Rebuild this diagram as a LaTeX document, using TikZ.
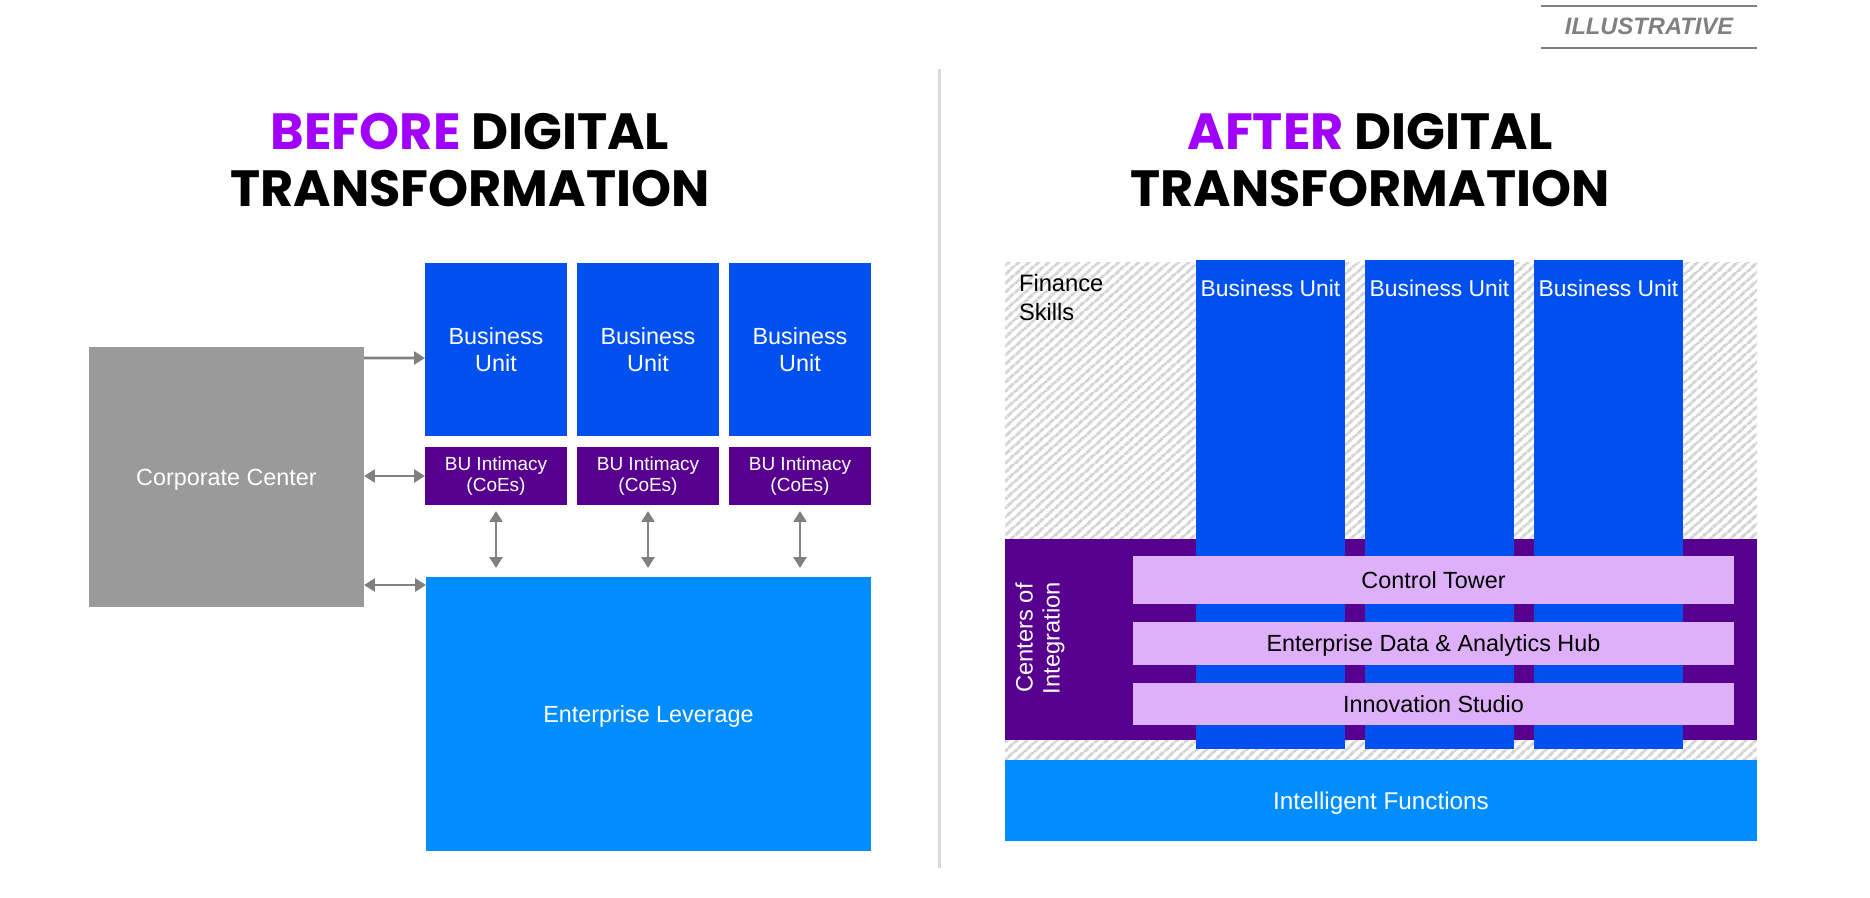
\documentclass[tikz,border=0pt]{standalone}
\usepackage{fontspec}
\setmainfont{Liberation Sans}
\newfontfamily\headfont{Poppins}
\usetikzlibrary{arrows.meta,patterns.meta,calc}

\definecolor{headpurple}{HTML}{A100FF}
\definecolor{bublue}{HTML}{0050EF}
\definecolor{levblue}{HTML}{008DFF}
\definecolor{darkpurple}{HTML}{570090}
\definecolor{lightpurple}{HTML}{DFB0FA}
\definecolor{ccgray}{HTML}{9A9A9A}
\definecolor{arrgray}{HTML}{808080}
\definecolor{hatchgray}{HTML}{D4D4D4}
\definecolor{rulegray}{HTML}{D9D9D9}

\begin{document}
\begin{tikzpicture}[x=0.02cm,y=-0.02cm,
  box/.style={rectangle, inner sep=0pt, outer sep=0pt, align=center, text=white,
    font=\fontsize{13.3}{15}\selectfont},
  head/.style={anchor=base, inner sep=0pt, font=\headfont\bfseries\fontsize{29}{29}\selectfont},
  arr/.style={draw=arrgray, line width=1.5pt, -{Triangle[length=0.22cm,width=0.26cm]}},
  dblarr/.style={draw=arrgray, line width=1.5pt, {Triangle[length=0.22cm,width=0.26cm]}-{Triangle[length=0.22cm,width=0.26cm]}}]
\useasboundingbox (0,0) rectangle (1870,898);

% tag
\node[inner sep=0pt, text=arrgray, font=\bfseries\itshape\fontsize{13.5}{14}\selectfont] (tag) at (1649,26) {ILLUSTRATIVE};
\draw[arrgray, line width=0.8pt] (1541,6) -- (1757,6);
\draw[arrgray, line width=0.8pt] (1541,48) -- (1757,48);

% headings
\node[head] (h1a) at (470,150) {\textcolor{headpurple}{BEFORE} DIGITAL};
\node[head] (h1b) at (470,207) {TRANSFORMATION};
\node[head] (h2a) at (1370,150) {\textcolor{headpurple}{AFTER} DIGITAL};
\node[head] (h2b) at (1370,207) {TRANSFORMATION};

\draw[rulegray, line width=1.7pt] (939,69) -- (939,868);

% before
\node[box, fill=ccgray, minimum width=5.5cm, minimum height=5.2cm, text depth=0pt] (cc) at (226.5,477) {Corporate Center};
\foreach \i/\x in {1/496,2/648,3/800} {
  \node[box, fill=bublue, minimum width=2.84cm, minimum height=3.46cm] (bu\i) at (\x,349.5) {Business\\Unit};
  \node[box, fill=darkpurple, minimum width=2.84cm, minimum height=1.16cm, font=\fontsize{10.8}{12.2}\selectfont] (bi\i) at (\x,476) {BU Intimacy\\(CoEs)};
}
\node[box, fill=levblue, minimum width=8.9cm, minimum height=5.48cm, text depth=0pt] (el) at (648.5,714) {Enterprise Leverage};

\draw[arr] ([yshift=-0.22cm]cc.north east) -- ([yshift=-0.17cm]bu1.west);
\draw[dblarr] (cc.east |- bi1.west) -- (bi1.west);
\draw[dblarr] ($(cc.east |- el.north west)+(0cm,-0.16cm)$) -- ($(el.north west)+(0cm,-0.16cm)$);
\foreach \i in {1,2,3}
  \draw[dblarr, shorten <=0.12cm, shorten >=0.18cm] (bi\i.south) -- (bi\i.south |- el.north);

% after
\fill[white, pattern={Lines[angle=42,distance=0.14cm,line width=0.07cm]}, pattern color=hatchgray] (1005,263) rectangle (1757,760);
\node[box, fill=darkpurple, minimum width=15.04cm, minimum height=4.02cm] (coi) at (1381,639.5) {};
\foreach \i/\x in {1/1270.5,2/1439.5,3/1608.5} {
  \node[box, fill=bublue, minimum width=2.98cm, minimum height=9.78cm] (col\i) at (\x,504.5) {};
  \node[box, inner sep=0pt, font=\fontsize{13}{15}\selectfont] (bul\i) at ([yshift=-0.56cm]col\i.north) {Business Unit};
}
\node[box, fill=lightpurple, text=black, minimum width=12.02cm, minimum height=0.96cm, text depth=0pt] (ct) at (1433.5,580) {Control Tower};
\node[box, fill=lightpurple, text=black, minimum width=12.02cm, minimum height=0.86cm, text depth=0pt] (eda) at (1433.5,643.5) {Enterprise Data \& Analytics Hub};
\node[box, fill=lightpurple, text=black, minimum width=12.02cm, minimum height=0.84cm, text depth=0pt] (is) at (1433.5,704) {Innovation Studio};
\node[box, rotate=90, font=\fontsize{13.5}{15.5}\selectfont] (coil) at (1040,638) {Centers of\\Integration};
\node[box, fill=levblue, minimum width=15.04cm, minimum height=1.62cm, text depth=0pt, font=\fontsize{13.8}{15}\selectfont] (ifn) at (1381,800.5) {Intelligent Functions};
\node[box, text=black, anchor=north west, align=left, font=\fontsize{13.5}{16.5}\selectfont] (fin) at (1019,274) {Finance\\Skills};
\end{tikzpicture}
\end{document}
